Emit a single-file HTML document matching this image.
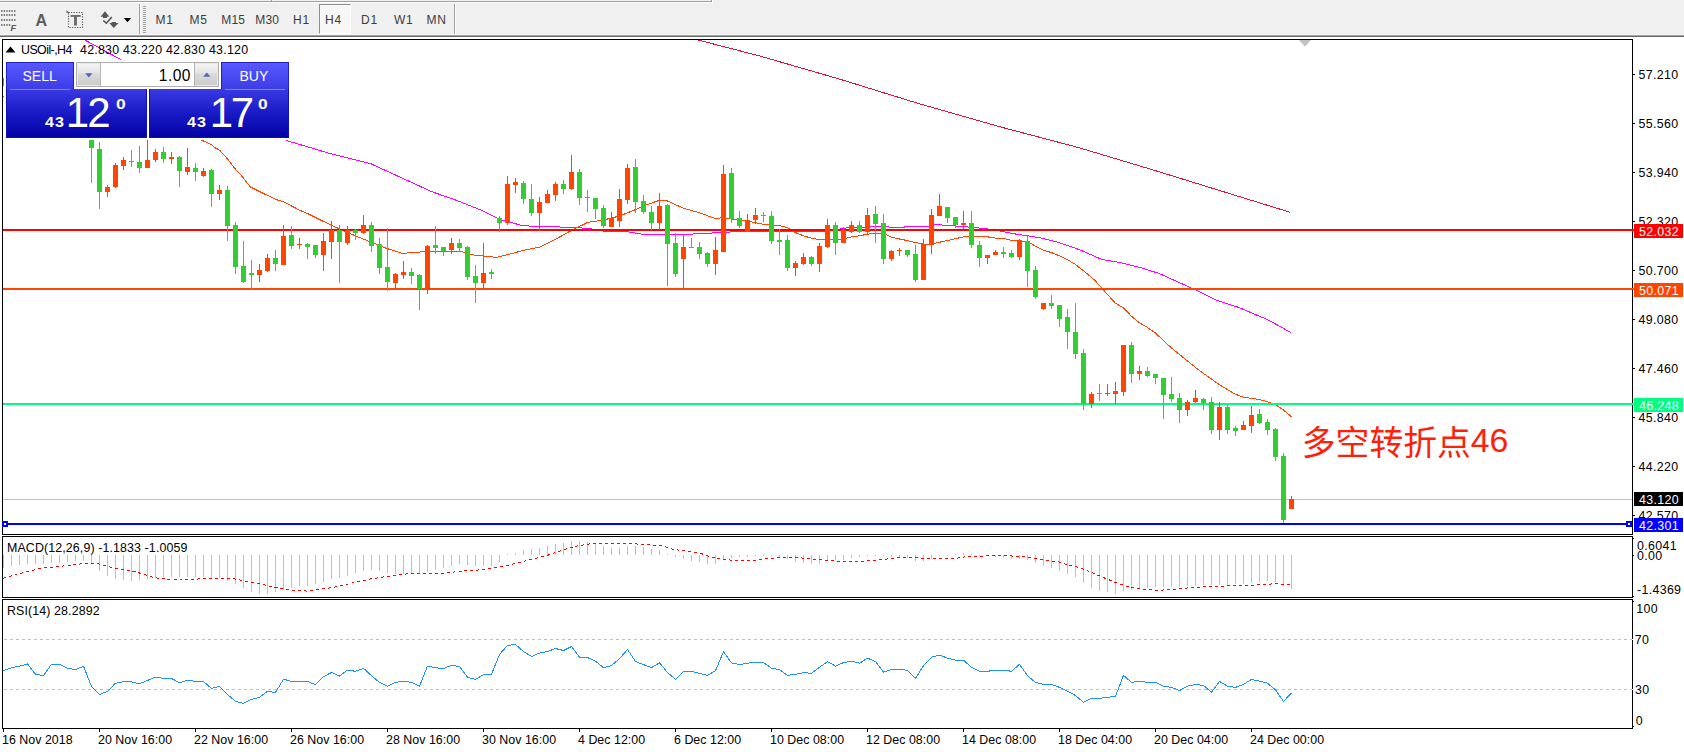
<!DOCTYPE html>
<html><head><meta charset="utf-8"><title>USOil H4</title>
<style>
html,body{margin:0;padding:0}
body{width:1684px;height:752px;position:relative;overflow:hidden;background:#fff;font-family:"Liberation Sans","Noto Sans CJK SC",sans-serif;color:#000}
.abs{position:absolute}
.t{position:absolute;white-space:nowrap;font-size:12.4px;letter-spacing:0.12px;line-height:14px;height:14px}
.tb{position:absolute;white-space:nowrap;font-size:12px;line-height:14px;color:#3c3c3c;top:13px}
.lab{position:absolute;left:1634px;width:49px;height:14px;overflow:hidden;color:#fff;font-size:12.4px;letter-spacing:0.33px;line-height:16px;text-indent:5px;white-space:nowrap}
.ax{position:absolute;left:1638.5px;white-space:nowrap;font-size:12.4px;letter-spacing:0.33px;line-height:14px;height:14px}
.tm{position:absolute;top:733px;white-space:nowrap;font-size:12.4px;letter-spacing:0.03px;line-height:14px;height:14px}
.w{color:#fff;position:absolute;white-space:nowrap}
</style></head><body>

<div class="abs" style="left:0;top:0;width:1684px;height:35px;background:#f0f0f0"></div>
<div class="abs" style="left:0;top:34px;width:1684px;height:1px;background:#f7f7f7"></div><div class="abs" style="left:0;top:35px;width:1684px;height:1px;background:#a4a4a4"></div>
<div class="abs" style="left:0;top:36px;width:1684px;height:1px;background:#696969"></div>
<div class="abs" style="left:0;top:1px;width:712px;height:1px;background:#a0a0a0"></div>
<div class="abs" style="left:0;top:2px;width:713px;height:1px;background:#fff"></div>
<div class="abs" style="left:271px;top:0;width:1px;height:1px;background:#a0a0a0"></div><div class="abs" style="left:272px;top:0;width:1px;height:1px;background:#fff"></div>
<div class="abs" style="left:711px;top:0;width:1px;height:2px;background:#a0a0a0"></div><div class="abs" style="left:712px;top:0;width:1px;height:3px;background:#fff"></div>
<div class="abs" style="left:139px;top:4px;width:1px;height:30px;background:#a0a0a0"></div><div class="abs" style="left:140px;top:4px;width:1px;height:30px;background:#fff"></div>
<div class="abs" style="left:454px;top:4px;width:1px;height:30px;background:#a0a0a0"></div><div class="abs" style="left:455px;top:4px;width:1px;height:30px;background:#fff"></div>
<div class="abs" style="left:143px;top:6px;width:3px;height:27px;background:repeating-linear-gradient(to bottom,#a0a0a0 0,#a0a0a0 1px,#f0f0f0 1px,#f0f0f0 2px)"></div>
<div class="abs" style="left:319px;top:4px;width:32px;height:30px;background:#f7f7f7;border-left:1px solid #8e8e8e;border-top:1px solid #8e8e8e;border-right:1px solid #fff;border-bottom:1px solid #fff;box-sizing:border-box"></div>
<div class="tb" style="left:155.4px;letter-spacing:0.9px">M1</div>
<div class="tb" style="left:189.4px;letter-spacing:0.9px">M5</div>
<div class="tb" style="left:221.3px;letter-spacing:0.2px">M15</div>
<div class="tb" style="left:255.3px;letter-spacing:0.2px">M30</div>
<div class="tb" style="left:292.9px;letter-spacing:0.9px">H1</div>
<div class="tb" style="left:324.9px;letter-spacing:0.9px">H4</div>
<div class="tb" style="left:360.9px;letter-spacing:0.9px">D1</div>
<div class="tb" style="left:393.9px;letter-spacing:0.9px">W1</div>
<div class="tb" style="left:426.4px;letter-spacing:0.9px">MN</div>
<svg class="abs" style="left:0;top:0" width="140" height="36" viewBox="0 0 140 36">
<g stroke="#7c7c7c" stroke-width="2" stroke-dasharray="1.45,1.15">
<line x1="1" y1="11" x2="15.5" y2="11"/><line x1="1" y1="15" x2="15.5" y2="15"/><line x1="1" y1="20" x2="15.5" y2="20"/><line x1="1" y1="25" x2="10.4" y2="25"/></g>
<text x="10.6" y="30.6" font-family="Liberation Sans,sans-serif" font-size="9.2" font-weight="bold" font-style="italic" fill="#585858">F</text>
<text x="35.6" y="25.6" font-family="Liberation Sans,sans-serif" font-size="16" font-weight="bold" fill="#5c5c5c">A</text>
<rect x="68.5" y="12.5" width="14" height="15" fill="none" stroke="#5a5a5a" stroke-width="1.2" stroke-dasharray="1.2,1.35"/>
<path d="M66.5 13 L66.5 10.2 L70 13 Z" fill="#666"/>
<rect x="70.5" y="15" width="10.2" height="1.9" fill="#707070"/><rect x="74" y="15" width="3" height="10.5" fill="#707070"/>
<path d="M105 11.2 L109.4 16.7 L106.9 16.7 L106.9 18 L103 18 L103 16.7 L100.6 16.7 Z" fill="#575757"/>
<path d="M113.8 28 L109.3 23 L111.6 23 L111.6 21.9 L115.9 21.9 L115.9 23 L118.5 23 Z" fill="#575757"/>
<path d="M103.3 20.6 L106.4 23.2 L111.8 16.9" fill="none" stroke="#575757" stroke-width="1.6"/>
<path d="M123.8 18 L131.2 18 L127.5 22.3 Z" fill="#000"/>
</svg>
<svg class="abs" style="left:0;top:0" width="1684" height="752" viewBox="0 0 1684 752" shape-rendering="crispEdges">
<g fill="#000">
<rect x="2" y="39" width="1631" height="1"/>
<rect x="2" y="39" width="1" height="690"/>
<rect x="1632" y="39" width="1" height="690"/>
<rect x="2" y="534" width="1631" height="1"/><rect x="2" y="536" width="1631" height="1"/>
<rect x="2" y="597" width="1631" height="1"/><rect x="2" y="599" width="1631" height="1"/>
<rect x="2" y="728" width="1631" height="1"/>
</g>
<g fill="#fff"><rect x="2" y="535" width="1631" height="1"/><rect x="2" y="598" width="1631" height="1"/></g>
<g fill="#000">
<rect x="1633" y="74" width="2" height="1"/>
<rect x="1633" y="123" width="2" height="1"/>
<rect x="1633" y="172" width="2" height="1"/>
<rect x="1633" y="221" width="2" height="1"/>
<rect x="1633" y="270" width="2" height="1"/>
<rect x="1633" y="319" width="2" height="1"/>
<rect x="1633" y="368" width="2" height="1"/>
<rect x="1633" y="417" width="2" height="1"/>
<rect x="1633" y="466" width="2" height="1"/>
<rect x="1633" y="515" width="2" height="1"/>
<rect x="1633" y="538" width="1" height="1"/>
<rect x="1633" y="555" width="1" height="1"/>
<rect x="1633" y="596" width="1" height="1"/>
<rect x="1633" y="601" width="1" height="1"/>
<rect x="1633" y="726" width="1" height="1"/>
<rect x="3" y="729" width="1" height="3"/>
<rect x="99" y="729" width="1" height="3"/>
<rect x="195" y="729" width="1" height="3"/>
<rect x="291" y="729" width="1" height="3"/>
<rect x="387" y="729" width="1" height="3"/>
<rect x="483" y="729" width="1" height="3"/>
<rect x="579" y="729" width="1" height="3"/>
<rect x="675" y="729" width="1" height="3"/>
<rect x="771" y="729" width="1" height="3"/>
<rect x="867" y="729" width="1" height="3"/>
<rect x="963" y="729" width="1" height="3"/>
<rect x="1059" y="729" width="1" height="3"/>
<rect x="1155" y="729" width="1" height="3"/>
<rect x="1251" y="729" width="1" height="3"/>
</g>
<polygon points="1299,40 1311,40 1305,46.5" fill="#c0c0c0" shape-rendering="auto"/>
<rect x="3" y="499" width="1629" height="1" fill="#c0c0c0"/>
<line x1="4" y1="639.5" x2="1632" y2="639.5" stroke="#c0c0c0" stroke-dasharray="3,3"/><rect x="1632" y="639" width="1" height="1" fill="#fff"/>
<line x1="4" y1="689.5" x2="1632" y2="689.5" stroke="#c0c0c0" stroke-dasharray="3,3"/><rect x="1632" y="689" width="1" height="1" fill="#fff"/>
<polyline fill="none" stroke="#ff00ff" stroke-width="1" points="84.7,40.0 121.0,59.6" />
<polyline fill="none" stroke="#ff00ff" stroke-width="1" points="286.3,140.6 305.3,146.1 330.5,153.7 371.0,163.8 401.3,177.7 431.6,191.6 456.9,200.5 482.2,210.6 499.9,219.4 522.6,225.7 540.0,226.5 563.7,227.1 587.7,228.3 603.6,231.1 628.0,231.9 641.2,234.1 667.5,235.1 683.9,234.5 715.5,232.8 731.5,231.9 749.0,231.0 775.0,231.3 793.0,231.8 823.0,231.8 835.0,230.0 847.0,227.8 868.0,227.0 874.0,226.3 887.0,226.3 890.0,227.4 903.0,227.4 906.0,226.6 927.0,226.6 931.5,225.5 935.0,224.3 947.5,225.5 963.5,226.6 971.5,227.4 983.0,228.3 1000.5,231.0 1011.5,233.4 1027.5,235.8 1043.5,238.5 1059.5,242.7 1079.0,249.5 1102.0,259.5 1118.9,262.3 1142.0,268.0 1158.9,273.4 1198.8,291.4 1217.0,300.5 1238.7,307.4 1269.0,320.3 1291.0,332.6" />
<polyline fill="none" stroke="#ff4500" stroke-width="1" points="201.0,140.0 207.0,142.5 211.6,144.6 215.0,147.7 219.6,150.2 227.5,158.9 232.5,165.4 235.5,169.3 243.5,178.0 250.2,186.9 262.8,193.2 277.4,200.0 283.0,201.5 300.0,210.4 307.7,213.6 331.7,225.5 355.6,235.9 371.5,242.3 384.8,247.8 402.3,253.4 423.0,251.8 435.8,251.0 459.7,251.0 474.0,255.0 496.4,257.4 512.3,253.4 523.9,250.3 539.8,247.1 555.8,239.1 571.7,230.3 587.7,222.4 603.6,220.0 619.6,216.0 635.5,209.6 643.5,205.8 659.5,200.3 667.5,201.0 683.9,208.4 699.5,212.7 715.5,218.7 723.5,217.4 731.5,219.2 747.5,221.1 763.5,224.3 779.5,225.6 787.5,227.8 795.5,232.6 803.5,235.8 811.5,238.2 819.5,239.5 835.8,240.1 843.5,239.0 851.5,236.9 859.5,235.8 867.5,234.2 875.5,233.0 883.5,233.4 891.5,237.1 899.5,239.0 907.5,240.6 915.5,242.5 923.5,244.1 931.5,244.1 939.5,242.2 947.5,240.6 955.5,238.7 963.5,236.9 971.5,236.1 983.0,236.1 995.7,238.2 1003.5,238.5 1011.5,240.3 1019.5,240.9 1027.5,241.4 1035.5,246.2 1043.5,250.2 1051.5,252.6 1059.5,255.8 1067.5,259.7 1075.5,264.5 1085.0,272.0 1094.5,280.0 1102.0,288.4 1115.5,303.3 1123.5,307.9 1131.5,316.3 1139.5,322.8 1147.5,327.5 1155.5,333.1 1163.5,340.5 1171.5,348.0 1179.5,354.5 1190.0,363.0 1200.0,371.0 1210.0,378.0 1219.9,385.0 1227.5,389.7 1235.5,394.3 1243.5,397.1 1251.5,398.4 1259.5,399.5 1267.5,401.8 1275.5,404.6 1283.5,410.1 1291.5,416.7" />
<polyline fill="none" stroke="#dc143c" stroke-width="1" points="698.0,40.0 759.8,56.0 839.6,79.1 919.4,103.8 999.2,126.6 1079.0,147.7 1158.9,171.7 1238.7,196.4 1290.5,212.4" />
<rect x="3" y="229" width="1631" height="2" fill="#ff0000"/>
<rect x="3" y="288" width="1631" height="2" fill="#ff4500"/>
<rect x="3" y="403" width="1631" height="2" fill="#00ff7f"/>
<rect x="3" y="523" width="1629" height="2" fill="#0000ff"/>
<rect x="1626" y="521" width="6" height="6" fill="#0000ff"/><rect x="1628" y="523" width="2" height="2" fill="#fff"/>
<rect x="2" y="521" width="6" height="6" fill="#0000ff"/><rect x="4" y="523" width="2" height="2" fill="#fff"/>
<rect x="3" y="78" width="1" height="8" fill="#32cd32"/>
<rect x="3" y="96" width="1" height="1" fill="#ff4500"/>
<rect x="91" y="140" width="1" height="43" fill="#32cd32"/>
<rect x="89" y="140" width="5" height="8" fill="#32cd32"/>
<rect x="99" y="142" width="1" height="67" fill="#32cd32"/>
<rect x="97" y="149" width="5" height="43" fill="#32cd32"/>
<rect x="107" y="185" width="1" height="12" fill="#ff4500"/>
<rect x="105" y="187" width="5" height="5" fill="#ff4500"/>
<rect x="115" y="163" width="1" height="25" fill="#ff4500"/>
<rect x="113" y="165" width="5" height="22" fill="#ff4500"/>
<rect x="123" y="157" width="1" height="13" fill="#ff4500"/>
<rect x="121" y="160" width="5" height="6" fill="#ff4500"/>
<rect x="131" y="150" width="1" height="17" fill="#32cd32"/>
<rect x="129" y="161" width="5" height="1" fill="#32cd32"/>
<rect x="139" y="146" width="1" height="27" fill="#32cd32"/>
<rect x="137" y="162" width="5" height="6" fill="#32cd32"/>
<rect x="147" y="140" width="1" height="28" fill="#ff4500"/>
<rect x="145" y="160" width="5" height="8" fill="#ff4500"/>
<rect x="155" y="149" width="1" height="13" fill="#ff4500"/>
<rect x="153" y="152" width="5" height="8" fill="#ff4500"/>
<rect x="163" y="147" width="1" height="16" fill="#32cd32"/>
<rect x="161" y="152" width="5" height="7" fill="#32cd32"/>
<rect x="171" y="152" width="1" height="12" fill="#ff4500"/>
<rect x="169" y="157" width="5" height="2" fill="#ff4500"/>
<rect x="179" y="156" width="1" height="31" fill="#32cd32"/>
<rect x="177" y="157" width="5" height="14" fill="#32cd32"/>
<rect x="187" y="148" width="1" height="27" fill="#ff4500"/>
<rect x="185" y="167" width="5" height="5" fill="#ff4500"/>
<rect x="195" y="163" width="1" height="18" fill="#32cd32"/>
<rect x="193" y="168" width="5" height="4" fill="#32cd32"/>
<rect x="203" y="168" width="1" height="9" fill="#ff4500"/>
<rect x="201" y="171" width="5" height="5" fill="#ff4500"/>
<rect x="211" y="169" width="1" height="38" fill="#32cd32"/>
<rect x="209" y="170" width="5" height="24" fill="#32cd32"/>
<rect x="219" y="185" width="1" height="15" fill="#ff4500"/>
<rect x="217" y="190" width="5" height="4" fill="#ff4500"/>
<rect x="227" y="186" width="1" height="55" fill="#32cd32"/>
<rect x="225" y="190" width="5" height="36" fill="#32cd32"/>
<rect x="235" y="222" width="1" height="52" fill="#32cd32"/>
<rect x="233" y="225" width="5" height="42" fill="#32cd32"/>
<rect x="243" y="241" width="1" height="42" fill="#32cd32"/>
<rect x="241" y="266" width="5" height="16" fill="#32cd32"/>
<rect x="251" y="260" width="1" height="30" fill="#32cd32"/>
<rect x="249" y="273" width="5" height="2" fill="#32cd32"/>
<rect x="259" y="264" width="1" height="18" fill="#ff4500"/>
<rect x="257" y="270" width="5" height="5" fill="#ff4500"/>
<rect x="267" y="254" width="1" height="18" fill="#ff4500"/>
<rect x="265" y="258" width="5" height="13" fill="#ff4500"/>
<rect x="275" y="250" width="1" height="21" fill="#32cd32"/>
<rect x="273" y="258" width="5" height="6" fill="#32cd32"/>
<rect x="283" y="225" width="1" height="40" fill="#ff4500"/>
<rect x="281" y="236" width="5" height="29" fill="#ff4500"/>
<rect x="291" y="226" width="1" height="23" fill="#32cd32"/>
<rect x="289" y="235" width="5" height="11" fill="#32cd32"/>
<rect x="299" y="238" width="1" height="11" fill="#ff4500"/>
<rect x="297" y="244" width="5" height="1" fill="#ff4500"/>
<rect x="307" y="243" width="1" height="16" fill="#32cd32"/>
<rect x="305" y="244" width="5" height="3" fill="#32cd32"/>
<rect x="315" y="245" width="1" height="13" fill="#32cd32"/>
<rect x="313" y="245" width="5" height="10" fill="#32cd32"/>
<rect x="323" y="233" width="1" height="38" fill="#ff4500"/>
<rect x="321" y="241" width="5" height="14" fill="#ff4500"/>
<rect x="331" y="221" width="1" height="38" fill="#ff4500"/>
<rect x="329" y="230" width="5" height="12" fill="#ff4500"/>
<rect x="339" y="225" width="1" height="58" fill="#32cd32"/>
<rect x="337" y="230" width="5" height="12" fill="#32cd32"/>
<rect x="347" y="226" width="1" height="19" fill="#ff4500"/>
<rect x="345" y="230" width="5" height="13" fill="#ff4500"/>
<rect x="355" y="229" width="1" height="11" fill="#32cd32"/>
<rect x="353" y="230" width="5" height="3" fill="#32cd32"/>
<rect x="363" y="215" width="1" height="19" fill="#ff4500"/>
<rect x="361" y="225" width="5" height="8" fill="#ff4500"/>
<rect x="371" y="222" width="1" height="30" fill="#32cd32"/>
<rect x="369" y="225" width="5" height="21" fill="#32cd32"/>
<rect x="379" y="238" width="1" height="36" fill="#32cd32"/>
<rect x="377" y="244" width="5" height="24" fill="#32cd32"/>
<rect x="387" y="228" width="1" height="63" fill="#32cd32"/>
<rect x="385" y="267" width="5" height="15" fill="#32cd32"/>
<rect x="395" y="273" width="1" height="15" fill="#ff4500"/>
<rect x="393" y="274" width="5" height="9" fill="#ff4500"/>
<rect x="403" y="261" width="1" height="18" fill="#ff4500"/>
<rect x="401" y="272" width="5" height="3" fill="#ff4500"/>
<rect x="411" y="268" width="1" height="16" fill="#32cd32"/>
<rect x="409" y="272" width="5" height="4" fill="#32cd32"/>
<rect x="419" y="274" width="1" height="36" fill="#32cd32"/>
<rect x="417" y="275" width="5" height="14" fill="#32cd32"/>
<rect x="427" y="245" width="1" height="49" fill="#ff4500"/>
<rect x="425" y="246" width="5" height="43" fill="#ff4500"/>
<rect x="435" y="226" width="1" height="28" fill="#32cd32"/>
<rect x="433" y="245" width="5" height="3" fill="#32cd32"/>
<rect x="443" y="247" width="1" height="9" fill="#32cd32"/>
<rect x="441" y="247" width="5" height="4" fill="#32cd32"/>
<rect x="451" y="238" width="1" height="16" fill="#ff4500"/>
<rect x="449" y="243" width="5" height="7" fill="#ff4500"/>
<rect x="459" y="239" width="1" height="13" fill="#32cd32"/>
<rect x="457" y="243" width="5" height="5" fill="#32cd32"/>
<rect x="467" y="246" width="1" height="34" fill="#32cd32"/>
<rect x="465" y="247" width="5" height="30" fill="#32cd32"/>
<rect x="475" y="265" width="1" height="38" fill="#32cd32"/>
<rect x="473" y="276" width="5" height="7" fill="#32cd32"/>
<rect x="483" y="243" width="1" height="45" fill="#ff4500"/>
<rect x="481" y="273" width="5" height="10" fill="#ff4500"/>
<rect x="491" y="269" width="1" height="10" fill="#32cd32"/>
<rect x="489" y="272" width="5" height="2" fill="#32cd32"/>
<rect x="499" y="216" width="1" height="16" fill="#32cd32"/>
<rect x="497" y="218" width="5" height="5" fill="#32cd32"/>
<rect x="507" y="176" width="1" height="49" fill="#ff4500"/>
<rect x="505" y="184" width="5" height="39" fill="#ff4500"/>
<rect x="515" y="178" width="1" height="15" fill="#ff4500"/>
<rect x="513" y="182" width="5" height="3" fill="#ff4500"/>
<rect x="523" y="181" width="1" height="23" fill="#32cd32"/>
<rect x="521" y="183" width="5" height="16" fill="#32cd32"/>
<rect x="531" y="184" width="1" height="32" fill="#32cd32"/>
<rect x="529" y="199" width="5" height="14" fill="#32cd32"/>
<rect x="539" y="197" width="1" height="34" fill="#ff4500"/>
<rect x="537" y="202" width="5" height="11" fill="#ff4500"/>
<rect x="547" y="190" width="1" height="13" fill="#ff4500"/>
<rect x="545" y="194" width="5" height="9" fill="#ff4500"/>
<rect x="555" y="182" width="1" height="19" fill="#ff4500"/>
<rect x="553" y="184" width="5" height="11" fill="#ff4500"/>
<rect x="563" y="180" width="1" height="14" fill="#32cd32"/>
<rect x="561" y="184" width="5" height="5" fill="#32cd32"/>
<rect x="571" y="155" width="1" height="35" fill="#ff4500"/>
<rect x="569" y="172" width="5" height="17" fill="#ff4500"/>
<rect x="579" y="169" width="1" height="36" fill="#32cd32"/>
<rect x="577" y="172" width="5" height="26" fill="#32cd32"/>
<rect x="587" y="190" width="1" height="22" fill="#32cd32"/>
<rect x="585" y="197" width="5" height="1" fill="#32cd32"/>
<rect x="595" y="198" width="1" height="21" fill="#32cd32"/>
<rect x="593" y="198" width="5" height="11" fill="#32cd32"/>
<rect x="603" y="205" width="1" height="23" fill="#32cd32"/>
<rect x="601" y="208" width="5" height="18" fill="#32cd32"/>
<rect x="611" y="212" width="1" height="15" fill="#ff4500"/>
<rect x="609" y="218" width="5" height="9" fill="#ff4500"/>
<rect x="619" y="189" width="1" height="38" fill="#ff4500"/>
<rect x="617" y="199" width="5" height="22" fill="#ff4500"/>
<rect x="627" y="164" width="1" height="40" fill="#ff4500"/>
<rect x="625" y="168" width="5" height="32" fill="#ff4500"/>
<rect x="635" y="159" width="1" height="54" fill="#32cd32"/>
<rect x="633" y="167" width="5" height="35" fill="#32cd32"/>
<rect x="643" y="195" width="1" height="19" fill="#32cd32"/>
<rect x="641" y="201" width="5" height="11" fill="#32cd32"/>
<rect x="651" y="206" width="1" height="24" fill="#32cd32"/>
<rect x="649" y="212" width="5" height="11" fill="#32cd32"/>
<rect x="659" y="193" width="1" height="37" fill="#ff4500"/>
<rect x="657" y="206" width="5" height="17" fill="#ff4500"/>
<rect x="667" y="204" width="1" height="82" fill="#32cd32"/>
<rect x="665" y="205" width="5" height="39" fill="#32cd32"/>
<rect x="675" y="233" width="1" height="44" fill="#32cd32"/>
<rect x="673" y="243" width="5" height="31" fill="#32cd32"/>
<rect x="683" y="234" width="1" height="55" fill="#ff4500"/>
<rect x="681" y="247" width="5" height="12" fill="#ff4500"/>
<rect x="691" y="238" width="1" height="10" fill="#32cd32"/>
<rect x="689" y="247" width="5" height="1" fill="#32cd32"/>
<rect x="699" y="242" width="1" height="17" fill="#32cd32"/>
<rect x="697" y="247" width="5" height="7" fill="#32cd32"/>
<rect x="707" y="252" width="1" height="15" fill="#32cd32"/>
<rect x="705" y="253" width="5" height="11" fill="#32cd32"/>
<rect x="715" y="237" width="1" height="38" fill="#ff4500"/>
<rect x="713" y="250" width="5" height="14" fill="#ff4500"/>
<rect x="723" y="165" width="1" height="87" fill="#ff4500"/>
<rect x="721" y="174" width="5" height="78" fill="#ff4500"/>
<rect x="731" y="168" width="1" height="55" fill="#32cd32"/>
<rect x="729" y="173" width="5" height="46" fill="#32cd32"/>
<rect x="739" y="211" width="1" height="17" fill="#32cd32"/>
<rect x="737" y="218" width="5" height="8" fill="#32cd32"/>
<rect x="747" y="214" width="1" height="18" fill="#ff4500"/>
<rect x="745" y="220" width="5" height="12" fill="#ff4500"/>
<rect x="755" y="208" width="1" height="16" fill="#ff4500"/>
<rect x="753" y="215" width="5" height="5" fill="#ff4500"/>
<rect x="763" y="212" width="1" height="10" fill="#32cd32"/>
<rect x="761" y="215" width="5" height="1" fill="#32cd32"/>
<rect x="771" y="211" width="1" height="33" fill="#32cd32"/>
<rect x="769" y="216" width="5" height="25" fill="#32cd32"/>
<rect x="779" y="229" width="1" height="26" fill="#32cd32"/>
<rect x="777" y="240" width="5" height="2" fill="#32cd32"/>
<rect x="787" y="235" width="1" height="36" fill="#32cd32"/>
<rect x="785" y="240" width="5" height="28" fill="#32cd32"/>
<rect x="795" y="261" width="1" height="15" fill="#ff4500"/>
<rect x="793" y="263" width="5" height="5" fill="#ff4500"/>
<rect x="803" y="253" width="1" height="12" fill="#ff4500"/>
<rect x="801" y="257" width="5" height="7" fill="#ff4500"/>
<rect x="811" y="256" width="1" height="10" fill="#32cd32"/>
<rect x="809" y="257" width="5" height="7" fill="#32cd32"/>
<rect x="819" y="243" width="1" height="29" fill="#ff4500"/>
<rect x="817" y="246" width="5" height="18" fill="#ff4500"/>
<rect x="827" y="219" width="1" height="29" fill="#ff4500"/>
<rect x="825" y="225" width="5" height="22" fill="#ff4500"/>
<rect x="835" y="222" width="1" height="33" fill="#32cd32"/>
<rect x="833" y="225" width="5" height="18" fill="#32cd32"/>
<rect x="843" y="227" width="1" height="16" fill="#ff4500"/>
<rect x="841" y="230" width="5" height="13" fill="#ff4500"/>
<rect x="851" y="221" width="1" height="12" fill="#ff4500"/>
<rect x="849" y="225" width="5" height="7" fill="#ff4500"/>
<rect x="859" y="221" width="1" height="12" fill="#32cd32"/>
<rect x="857" y="225" width="5" height="7" fill="#32cd32"/>
<rect x="867" y="208" width="1" height="27" fill="#ff4500"/>
<rect x="865" y="215" width="5" height="17" fill="#ff4500"/>
<rect x="875" y="206" width="1" height="37" fill="#32cd32"/>
<rect x="873" y="214" width="5" height="10" fill="#32cd32"/>
<rect x="883" y="214" width="1" height="50" fill="#32cd32"/>
<rect x="881" y="223" width="5" height="36" fill="#32cd32"/>
<rect x="891" y="250" width="1" height="11" fill="#ff4500"/>
<rect x="889" y="251" width="5" height="8" fill="#ff4500"/>
<rect x="899" y="248" width="1" height="8" fill="#ff4500"/>
<rect x="897" y="250" width="5" height="1" fill="#ff4500"/>
<rect x="907" y="250" width="1" height="7" fill="#32cd32"/>
<rect x="905" y="250" width="5" height="5" fill="#32cd32"/>
<rect x="915" y="245" width="1" height="37" fill="#32cd32"/>
<rect x="913" y="254" width="5" height="26" fill="#32cd32"/>
<rect x="923" y="239" width="1" height="41" fill="#ff4500"/>
<rect x="921" y="244" width="5" height="36" fill="#ff4500"/>
<rect x="931" y="209" width="1" height="45" fill="#ff4500"/>
<rect x="929" y="215" width="5" height="30" fill="#ff4500"/>
<rect x="939" y="194" width="1" height="22" fill="#ff4500"/>
<rect x="937" y="206" width="5" height="10" fill="#ff4500"/>
<rect x="947" y="207" width="1" height="16" fill="#32cd32"/>
<rect x="945" y="207" width="5" height="11" fill="#32cd32"/>
<rect x="955" y="217" width="1" height="11" fill="#32cd32"/>
<rect x="953" y="217" width="5" height="8" fill="#32cd32"/>
<rect x="963" y="211" width="1" height="18" fill="#ff4500"/>
<rect x="961" y="223" width="5" height="2" fill="#ff4500"/>
<rect x="971" y="211" width="1" height="37" fill="#32cd32"/>
<rect x="969" y="223" width="5" height="22" fill="#32cd32"/>
<rect x="979" y="241" width="1" height="26" fill="#32cd32"/>
<rect x="977" y="245" width="5" height="13" fill="#32cd32"/>
<rect x="987" y="255" width="1" height="9" fill="#ff4500"/>
<rect x="985" y="255" width="5" height="3" fill="#ff4500"/>
<rect x="995" y="250" width="1" height="5" fill="#ff4500"/>
<rect x="993" y="252" width="5" height="3" fill="#ff4500"/>
<rect x="1003" y="247" width="1" height="11" fill="#32cd32"/>
<rect x="1001" y="252" width="5" height="2" fill="#32cd32"/>
<rect x="1011" y="250" width="1" height="8" fill="#32cd32"/>
<rect x="1009" y="253" width="5" height="4" fill="#32cd32"/>
<rect x="1019" y="239" width="1" height="21" fill="#ff4500"/>
<rect x="1017" y="240" width="5" height="17" fill="#ff4500"/>
<rect x="1027" y="236" width="1" height="51" fill="#32cd32"/>
<rect x="1025" y="241" width="5" height="30" fill="#32cd32"/>
<rect x="1035" y="266" width="1" height="33" fill="#32cd32"/>
<rect x="1033" y="270" width="5" height="27" fill="#32cd32"/>
<rect x="1043" y="303" width="1" height="7" fill="#ff4500"/>
<rect x="1041" y="303" width="5" height="6" fill="#ff4500"/>
<rect x="1051" y="295" width="1" height="14" fill="#32cd32"/>
<rect x="1049" y="303" width="5" height="3" fill="#32cd32"/>
<rect x="1059" y="305" width="1" height="22" fill="#32cd32"/>
<rect x="1057" y="305" width="5" height="14" fill="#32cd32"/>
<rect x="1067" y="309" width="1" height="40" fill="#32cd32"/>
<rect x="1065" y="317" width="5" height="15" fill="#32cd32"/>
<rect x="1075" y="303" width="1" height="56" fill="#32cd32"/>
<rect x="1073" y="332" width="5" height="22" fill="#32cd32"/>
<rect x="1083" y="349" width="1" height="61" fill="#32cd32"/>
<rect x="1081" y="353" width="5" height="51" fill="#32cd32"/>
<rect x="1091" y="392" width="1" height="16" fill="#ff4500"/>
<rect x="1089" y="394" width="5" height="10" fill="#ff4500"/>
<rect x="1099" y="384" width="1" height="17" fill="#32cd32"/>
<rect x="1097" y="393" width="5" height="1" fill="#32cd32"/>
<rect x="1107" y="384" width="1" height="12" fill="#ff4500"/>
<rect x="1105" y="393" width="5" height="1" fill="#ff4500"/>
<rect x="1115" y="382" width="1" height="22" fill="#ff4500"/>
<rect x="1113" y="391" width="5" height="3" fill="#ff4500"/>
<rect x="1123" y="345" width="1" height="51" fill="#ff4500"/>
<rect x="1121" y="345" width="5" height="47" fill="#ff4500"/>
<rect x="1131" y="342" width="1" height="41" fill="#32cd32"/>
<rect x="1129" y="345" width="5" height="29" fill="#32cd32"/>
<rect x="1139" y="366" width="1" height="14" fill="#ff4500"/>
<rect x="1137" y="371" width="5" height="3" fill="#ff4500"/>
<rect x="1147" y="367" width="1" height="10" fill="#32cd32"/>
<rect x="1145" y="371" width="5" height="5" fill="#32cd32"/>
<rect x="1155" y="374" width="1" height="10" fill="#32cd32"/>
<rect x="1153" y="374" width="5" height="4" fill="#32cd32"/>
<rect x="1163" y="378" width="1" height="41" fill="#32cd32"/>
<rect x="1161" y="378" width="5" height="17" fill="#32cd32"/>
<rect x="1171" y="377" width="1" height="25" fill="#32cd32"/>
<rect x="1169" y="394" width="5" height="5" fill="#32cd32"/>
<rect x="1179" y="393" width="1" height="30" fill="#32cd32"/>
<rect x="1177" y="398" width="5" height="12" fill="#32cd32"/>
<rect x="1187" y="400" width="1" height="16" fill="#ff4500"/>
<rect x="1185" y="402" width="5" height="8" fill="#ff4500"/>
<rect x="1195" y="390" width="1" height="13" fill="#ff4500"/>
<rect x="1193" y="398" width="5" height="4" fill="#ff4500"/>
<rect x="1203" y="398" width="1" height="12" fill="#32cd32"/>
<rect x="1201" y="399" width="5" height="4" fill="#32cd32"/>
<rect x="1211" y="397" width="1" height="37" fill="#32cd32"/>
<rect x="1209" y="402" width="5" height="28" fill="#32cd32"/>
<rect x="1219" y="402" width="1" height="38" fill="#ff4500"/>
<rect x="1217" y="407" width="5" height="23" fill="#ff4500"/>
<rect x="1227" y="405" width="1" height="29" fill="#32cd32"/>
<rect x="1225" y="407" width="5" height="23" fill="#32cd32"/>
<rect x="1235" y="426" width="1" height="10" fill="#32cd32"/>
<rect x="1233" y="428" width="5" height="3" fill="#32cd32"/>
<rect x="1243" y="421" width="1" height="9" fill="#ff4500"/>
<rect x="1241" y="425" width="5" height="5" fill="#ff4500"/>
<rect x="1251" y="406" width="1" height="27" fill="#ff4500"/>
<rect x="1249" y="415" width="5" height="11" fill="#ff4500"/>
<rect x="1259" y="409" width="1" height="15" fill="#32cd32"/>
<rect x="1257" y="414" width="5" height="9" fill="#32cd32"/>
<rect x="1267" y="419" width="1" height="16" fill="#32cd32"/>
<rect x="1265" y="422" width="5" height="8" fill="#32cd32"/>
<rect x="1275" y="428" width="1" height="33" fill="#32cd32"/>
<rect x="1273" y="429" width="5" height="28" fill="#32cd32"/>
<rect x="1283" y="453" width="1" height="70" fill="#32cd32"/>
<rect x="1281" y="456" width="5" height="64" fill="#32cd32"/>
<rect x="1291" y="496" width="1" height="13" fill="#ff4500"/>
<rect x="1289" y="499" width="5" height="10" fill="#ff4500"/>
<rect x="3" y="555" width="1" height="13" fill="#c0c0c0"/>
<rect x="11" y="555" width="1" height="11" fill="#c0c0c0"/>
<rect x="19" y="555" width="1" height="10" fill="#c0c0c0"/>
<rect x="27" y="555" width="1" height="9" fill="#c0c0c0"/>
<rect x="35" y="555" width="1" height="9" fill="#c0c0c0"/>
<rect x="43" y="555" width="1" height="9" fill="#c0c0c0"/>
<rect x="51" y="555" width="1" height="8" fill="#c0c0c0"/>
<rect x="59" y="555" width="1" height="8" fill="#c0c0c0"/>
<rect x="67" y="555" width="1" height="7" fill="#c0c0c0"/>
<rect x="75" y="555" width="1" height="6" fill="#c0c0c0"/>
<rect x="83" y="555" width="1" height="6" fill="#c0c0c0"/>
<rect x="91" y="555" width="1" height="9" fill="#c0c0c0"/>
<rect x="99" y="555" width="1" height="16" fill="#c0c0c0"/>
<rect x="107" y="555" width="1" height="21" fill="#c0c0c0"/>
<rect x="115" y="555" width="1" height="24" fill="#c0c0c0"/>
<rect x="123" y="555" width="1" height="25" fill="#c0c0c0"/>
<rect x="131" y="555" width="1" height="26" fill="#c0c0c0"/>
<rect x="139" y="555" width="1" height="25" fill="#c0c0c0"/>
<rect x="147" y="555" width="1" height="24" fill="#c0c0c0"/>
<rect x="155" y="555" width="1" height="23" fill="#c0c0c0"/>
<rect x="163" y="555" width="1" height="22" fill="#c0c0c0"/>
<rect x="171" y="555" width="1" height="22" fill="#c0c0c0"/>
<rect x="179" y="555" width="1" height="22" fill="#c0c0c0"/>
<rect x="187" y="555" width="1" height="22" fill="#c0c0c0"/>
<rect x="195" y="555" width="1" height="22" fill="#c0c0c0"/>
<rect x="203" y="555" width="1" height="22" fill="#c0c0c0"/>
<rect x="211" y="555" width="1" height="23" fill="#c0c0c0"/>
<rect x="219" y="555" width="1" height="23" fill="#c0c0c0"/>
<rect x="227" y="555" width="1" height="26" fill="#c0c0c0"/>
<rect x="235" y="555" width="1" height="29" fill="#c0c0c0"/>
<rect x="243" y="555" width="1" height="33" fill="#c0c0c0"/>
<rect x="251" y="555" width="1" height="37" fill="#c0c0c0"/>
<rect x="259" y="555" width="1" height="39" fill="#c0c0c0"/>
<rect x="267" y="555" width="1" height="39" fill="#c0c0c0"/>
<rect x="275" y="555" width="1" height="37" fill="#c0c0c0"/>
<rect x="283" y="555" width="1" height="35" fill="#c0c0c0"/>
<rect x="291" y="555" width="1" height="33" fill="#c0c0c0"/>
<rect x="299" y="555" width="1" height="31" fill="#c0c0c0"/>
<rect x="307" y="555" width="1" height="31" fill="#c0c0c0"/>
<rect x="315" y="555" width="1" height="29" fill="#c0c0c0"/>
<rect x="323" y="555" width="1" height="27" fill="#c0c0c0"/>
<rect x="331" y="555" width="1" height="24" fill="#c0c0c0"/>
<rect x="339" y="555" width="1" height="23" fill="#c0c0c0"/>
<rect x="347" y="555" width="1" height="21" fill="#c0c0c0"/>
<rect x="355" y="555" width="1" height="18" fill="#c0c0c0"/>
<rect x="363" y="555" width="1" height="16" fill="#c0c0c0"/>
<rect x="371" y="555" width="1" height="15" fill="#c0c0c0"/>
<rect x="379" y="555" width="1" height="16" fill="#c0c0c0"/>
<rect x="387" y="555" width="1" height="18" fill="#c0c0c0"/>
<rect x="395" y="555" width="1" height="19" fill="#c0c0c0"/>
<rect x="403" y="555" width="1" height="19" fill="#c0c0c0"/>
<rect x="411" y="555" width="1" height="18" fill="#c0c0c0"/>
<rect x="419" y="555" width="1" height="19" fill="#c0c0c0"/>
<rect x="427" y="555" width="1" height="17" fill="#c0c0c0"/>
<rect x="435" y="555" width="1" height="15" fill="#c0c0c0"/>
<rect x="443" y="555" width="1" height="13" fill="#c0c0c0"/>
<rect x="451" y="555" width="1" height="11" fill="#c0c0c0"/>
<rect x="459" y="555" width="1" height="9" fill="#c0c0c0"/>
<rect x="467" y="555" width="1" height="10" fill="#c0c0c0"/>
<rect x="475" y="555" width="1" height="11" fill="#c0c0c0"/>
<rect x="483" y="555" width="1" height="11" fill="#c0c0c0"/>
<rect x="491" y="555" width="1" height="11" fill="#c0c0c0"/>
<rect x="499" y="555" width="1" height="7" fill="#c0c0c0"/>
<rect x="507" y="554" width="1" height="1" fill="#c0c0c0"/>
<rect x="515" y="553" width="1" height="2" fill="#c0c0c0"/>
<rect x="523" y="550" width="1" height="5" fill="#c0c0c0"/>
<rect x="531" y="549" width="1" height="6" fill="#c0c0c0"/>
<rect x="539" y="548" width="1" height="7" fill="#c0c0c0"/>
<rect x="547" y="546" width="1" height="9" fill="#c0c0c0"/>
<rect x="555" y="544" width="1" height="11" fill="#c0c0c0"/>
<rect x="563" y="543" width="1" height="12" fill="#c0c0c0"/>
<rect x="571" y="541" width="1" height="14" fill="#c0c0c0"/>
<rect x="579" y="541" width="1" height="14" fill="#c0c0c0"/>
<rect x="587" y="542" width="1" height="13" fill="#c0c0c0"/>
<rect x="595" y="544" width="1" height="11" fill="#c0c0c0"/>
<rect x="603" y="546" width="1" height="9" fill="#c0c0c0"/>
<rect x="611" y="548" width="1" height="7" fill="#c0c0c0"/>
<rect x="619" y="548" width="1" height="7" fill="#c0c0c0"/>
<rect x="627" y="546" width="1" height="9" fill="#c0c0c0"/>
<rect x="635" y="546" width="1" height="9" fill="#c0c0c0"/>
<rect x="643" y="547" width="1" height="8" fill="#c0c0c0"/>
<rect x="651" y="549" width="1" height="6" fill="#c0c0c0"/>
<rect x="659" y="550" width="1" height="5" fill="#c0c0c0"/>
<rect x="667" y="554" width="1" height="1" fill="#c0c0c0"/>
<rect x="675" y="555" width="1" height="2" fill="#c0c0c0"/>
<rect x="683" y="555" width="1" height="4" fill="#c0c0c0"/>
<rect x="691" y="555" width="1" height="6" fill="#c0c0c0"/>
<rect x="699" y="555" width="1" height="7" fill="#c0c0c0"/>
<rect x="707" y="555" width="1" height="9" fill="#c0c0c0"/>
<rect x="715" y="555" width="1" height="9" fill="#c0c0c0"/>
<rect x="723" y="555" width="1" height="4" fill="#c0c0c0"/>
<rect x="731" y="555" width="1" height="3" fill="#c0c0c0"/>
<rect x="739" y="555" width="1" height="2" fill="#c0c0c0"/>
<rect x="747" y="555" width="1" height="2" fill="#c0c0c0"/>
<rect x="755" y="555" width="1" height="1" fill="#c0c0c0"/>
<rect x="763" y="555" width="1" height="1" fill="#c0c0c0"/>
<rect x="771" y="555" width="1" height="1" fill="#c0c0c0"/>
<rect x="779" y="555" width="1" height="2" fill="#c0c0c0"/>
<rect x="787" y="555" width="1" height="4" fill="#c0c0c0"/>
<rect x="795" y="555" width="1" height="7" fill="#c0c0c0"/>
<rect x="803" y="555" width="1" height="8" fill="#c0c0c0"/>
<rect x="811" y="555" width="1" height="9" fill="#c0c0c0"/>
<rect x="819" y="555" width="1" height="9" fill="#c0c0c0"/>
<rect x="827" y="555" width="1" height="6" fill="#c0c0c0"/>
<rect x="835" y="555" width="1" height="5" fill="#c0c0c0"/>
<rect x="843" y="555" width="1" height="5" fill="#c0c0c0"/>
<rect x="851" y="555" width="1" height="3" fill="#c0c0c0"/>
<rect x="859" y="555" width="1" height="2" fill="#c0c0c0"/>
<rect x="867" y="555" width="1" height="1" fill="#c0c0c0"/>
<rect x="875" y="555" width="1" height="1" fill="#c0c0c0"/>
<rect x="883" y="555" width="1" height="1" fill="#c0c0c0"/>
<rect x="891" y="555" width="1" height="2" fill="#c0c0c0"/>
<rect x="899" y="555" width="1" height="3" fill="#c0c0c0"/>
<rect x="907" y="555" width="1" height="3" fill="#c0c0c0"/>
<rect x="915" y="555" width="1" height="6" fill="#c0c0c0"/>
<rect x="923" y="555" width="1" height="6" fill="#c0c0c0"/>
<rect x="931" y="555" width="1" height="4" fill="#c0c0c0"/>
<rect x="939" y="555" width="1" height="1" fill="#c0c0c0"/>
<rect x="947" y="555" width="1" height="1" fill="#c0c0c0"/>
<rect x="955" y="554" width="1" height="1" fill="#c0c0c0"/>
<rect x="963" y="553" width="1" height="2" fill="#c0c0c0"/>
<rect x="971" y="554" width="1" height="1" fill="#c0c0c0"/>
<rect x="979" y="555" width="1" height="1" fill="#c0c0c0"/>
<rect x="987" y="555" width="1" height="1" fill="#c0c0c0"/>
<rect x="995" y="555" width="1" height="2" fill="#c0c0c0"/>
<rect x="1003" y="555" width="1" height="3" fill="#c0c0c0"/>
<rect x="1011" y="555" width="1" height="4" fill="#c0c0c0"/>
<rect x="1019" y="555" width="1" height="4" fill="#c0c0c0"/>
<rect x="1027" y="555" width="1" height="5" fill="#c0c0c0"/>
<rect x="1035" y="555" width="1" height="8" fill="#c0c0c0"/>
<rect x="1043" y="555" width="1" height="11" fill="#c0c0c0"/>
<rect x="1051" y="555" width="1" height="13" fill="#c0c0c0"/>
<rect x="1059" y="555" width="1" height="16" fill="#c0c0c0"/>
<rect x="1067" y="555" width="1" height="19" fill="#c0c0c0"/>
<rect x="1075" y="555" width="1" height="22" fill="#c0c0c0"/>
<rect x="1083" y="555" width="1" height="28" fill="#c0c0c0"/>
<rect x="1091" y="555" width="1" height="33" fill="#c0c0c0"/>
<rect x="1099" y="555" width="1" height="36" fill="#c0c0c0"/>
<rect x="1107" y="555" width="1" height="37" fill="#c0c0c0"/>
<rect x="1115" y="555" width="1" height="39" fill="#c0c0c0"/>
<rect x="1123" y="555" width="1" height="36" fill="#c0c0c0"/>
<rect x="1131" y="555" width="1" height="35" fill="#c0c0c0"/>
<rect x="1139" y="555" width="1" height="33" fill="#c0c0c0"/>
<rect x="1147" y="555" width="1" height="33" fill="#c0c0c0"/>
<rect x="1155" y="555" width="1" height="32" fill="#c0c0c0"/>
<rect x="1163" y="555" width="1" height="32" fill="#c0c0c0"/>
<rect x="1171" y="555" width="1" height="32" fill="#c0c0c0"/>
<rect x="1179" y="555" width="1" height="32" fill="#c0c0c0"/>
<rect x="1187" y="555" width="1" height="31" fill="#c0c0c0"/>
<rect x="1195" y="555" width="1" height="31" fill="#c0c0c0"/>
<rect x="1203" y="555" width="1" height="30" fill="#c0c0c0"/>
<rect x="1211" y="555" width="1" height="30" fill="#c0c0c0"/>
<rect x="1219" y="555" width="1" height="30" fill="#c0c0c0"/>
<rect x="1227" y="555" width="1" height="30" fill="#c0c0c0"/>
<rect x="1235" y="555" width="1" height="29" fill="#c0c0c0"/>
<rect x="1243" y="555" width="1" height="29" fill="#c0c0c0"/>
<rect x="1251" y="555" width="1" height="28" fill="#c0c0c0"/>
<rect x="1259" y="555" width="1" height="27" fill="#c0c0c0"/>
<rect x="1267" y="555" width="1" height="26" fill="#c0c0c0"/>
<rect x="1275" y="555" width="1" height="27" fill="#c0c0c0"/>
<rect x="1283" y="555" width="1" height="31" fill="#c0c0c0"/>
<rect x="1291" y="555" width="1" height="34" fill="#c0c0c0"/>
<polyline fill="none" stroke="#ff0000" stroke-width="1" points="3.0,578.4 20.2,573.4 40.4,568.3 60.6,566.3 80.8,563.9 96.9,563.5 107.0,566.3 121.0,569.3 137.3,572.3 153.4,577.4 161.5,578.8 181.7,579.8 201.9,578.8 232.2,578.4 242.3,580.4 262.5,584.5 282.7,588.9 292.8,590.5 308.9,591.1 323.0,588.9 333.0,587.5 350.2,583.4 370.4,579.0 386.5,576.4 410.8,573.4 443.0,573.4 459.2,571.3 479.4,569.9 503.6,566.3 519.8,562.2 531.9,559.2 548.0,555.2 562.2,550.1 578.3,545.7 592.5,543.5 628.8,543.5 653.0,545.1 663.0,546.1 672.1,549.1 700.4,553.2 708.5,556.2 720.6,559.2 732.7,560.2 754.9,560.2 767.0,558.6 789.2,557.2 805.4,558.2 813.4,559.6 829.6,560.2 837.7,561.6 859.9,561.6 870.0,560.2 882.1,559.8 892.2,558.2 908.3,557.2 920.4,558.2 956.8,558.2 964.9,556.8 981.0,556.6 989.1,555.4 1000.0,555.6 1018.3,556.2 1030.4,557.6 1042.5,559.6 1060.7,562.2 1066.7,564.7 1078.8,567.3 1091.0,572.3 1103.1,577.4 1115.2,582.4 1127.3,586.5 1139.4,588.5 1155.6,590.5 1171.7,589.5 1191.9,587.5 1212.1,586.5 1242.4,585.5 1268.6,584.5 1274.7,583.0 1282.8,584.5 1290.8,584.5" stroke-dasharray="3,3"/>
<polyline fill="none" stroke="#1e90ff" stroke-width="1" points="3.5,670.7 11.5,667.7 19.5,666.2 27.5,664.0 35.5,674.3 43.5,675.7 51.5,664.2 59.5,664.2 67.5,668.1 75.5,669.7 83.5,666.2 91.5,686.4 99.5,694.5 107.5,691.3 115.5,683.2 123.5,681.8 131.5,681.8 139.5,683.8 147.5,680.4 155.5,677.1 163.5,678.4 171.5,678.4 179.5,682.8 187.5,680.2 195.5,681.4 203.5,681.4 211.5,688.5 219.5,686.2 227.5,694.5 235.5,701.4 243.5,703.4 251.5,699.4 259.5,697.3 267.5,691.3 275.5,692.5 283.5,679.2 291.5,681.4 299.5,681.4 307.5,681.4 315.5,684.8 323.5,676.7 331.5,672.5 339.5,676.0 347.5,670.1 355.5,671.3 363.5,668.3 371.5,675.7 379.5,682.4 387.5,686.4 395.5,682.4 403.5,681.2 411.5,682.4 419.5,686.2 427.5,666.2 435.5,667.7 443.5,668.7 451.5,665.2 459.5,666.6 467.5,677.3 475.5,679.4 483.5,674.7 491.5,674.3 499.5,654.5 507.5,645.4 515.5,644.4 523.5,651.5 531.5,656.5 539.5,653.1 547.5,651.5 555.5,648.5 563.5,650.5 571.5,646.5 579.5,657.2 587.5,657.6 595.5,661.2 603.5,667.7 611.5,665.6 619.5,658.6 627.5,649.5 635.5,661.6 643.5,664.6 651.5,667.7 659.5,662.8 667.5,672.5 675.5,679.4 683.5,671.3 691.5,671.3 699.5,673.3 707.5,675.3 715.5,670.7 723.5,651.5 731.5,663.0 739.5,664.6 747.5,663.2 755.5,662.2 763.5,662.6 771.5,668.1 779.5,669.7 787.5,675.3 795.5,674.3 803.5,672.7 811.5,673.3 819.5,667.3 827.5,661.6 835.5,666.2 843.5,662.6 851.5,661.2 859.5,663.2 867.5,658.2 875.5,661.6 883.5,672.3 891.5,669.3 899.5,669.3 907.5,670.3 915.5,678.4 923.5,665.6 931.5,657.2 939.5,655.1 947.5,658.2 955.5,660.2 963.5,660.2 971.5,667.3 979.5,671.3 987.5,671.3 995.5,670.1 1003.5,670.1 1011.5,671.3 1019.5,664.2 1027.5,675.7 1035.5,682.4 1043.5,684.4 1051.5,684.4 1059.5,687.4 1067.5,691.3 1075.5,695.5 1083.5,702.4 1091.5,698.3 1099.5,698.3 1107.5,697.3 1115.5,696.3 1123.5,675.3 1131.5,682.4 1139.5,681.2 1147.5,682.4 1155.5,682.4 1163.5,686.2 1171.5,687.4 1179.5,690.5 1187.5,686.2 1195.5,684.4 1203.5,685.4 1211.5,692.3 1219.5,681.4 1227.5,686.2 1235.5,687.4 1243.5,684.4 1251.5,679.4 1259.5,681.2 1267.5,683.2 1275.5,689.9 1283.5,701.4 1291.5,692.9" />
</svg>
<div class="ax" style="top:68px">57.210</div>
<div class="ax" style="top:117px">55.560</div>
<div class="ax" style="top:166px">53.940</div>
<div class="ax" style="top:215px">52.320</div>
<div class="ax" style="top:264px">50.700</div>
<div class="ax" style="top:313px">49.080</div>
<div class="ax" style="top:362px">47.460</div>
<div class="ax" style="top:411px">45.840</div>
<div class="ax" style="top:460px">44.220</div>
<div class="ax" style="top:509px">42.570</div>
<div class="lab" style="top:224px;background:#ff0000;color:#fff">52.032</div>
<div class="lab" style="top:283px;background:#ff4500;color:#fff">50.071</div>
<div class="lab" style="top:398px;background:#00ff7f;color:#fff">46.248</div>
<div class="lab" style="top:492px;background:#000;color:#fff">43.120</div>
<div class="lab" style="top:518px;background:#0000ff;color:#fff">42.301</div>
<div class="ax" style="top:539px;left:1637px">0.6041</div>
<div class="ax" style="top:549px;left:1637px">0.00</div>
<div class="ax" style="top:583px;left:1637px">-1.4369</div>
<div class="ax" style="top:602px;left:1636.2px">100</div>
<div class="ax" style="top:633px;left:1634.8px">70</div>
<div class="ax" style="top:683px;left:1635px">30</div>
<div class="ax" style="top:714px;left:1635.8px">0</div>
<div class="tm" style="left:2px">16 Nov 2018</div>
<div class="tm" style="left:98px">20 Nov 16:00</div>
<div class="tm" style="left:194px">22 Nov 16:00</div>
<div class="tm" style="left:290px">26 Nov 16:00</div>
<div class="tm" style="left:386px">28 Nov 16:00</div>
<div class="tm" style="left:482px">30 Nov 16:00</div>
<div class="tm" style="left:578px">4 Dec 12:00</div>
<div class="tm" style="left:674px">6 Dec 12:00</div>
<div class="tm" style="left:770px">10 Dec 08:00</div>
<div class="tm" style="left:866px">12 Dec 08:00</div>
<div class="tm" style="left:962px">14 Dec 08:00</div>
<div class="tm" style="left:1058px">18 Dec 04:00</div>
<div class="tm" style="left:1154px">20 Dec 04:00</div>
<div class="tm" style="left:1250px">24 Dec 00:00</div>
<svg class="abs" style="left:5px;top:46px" width="11" height="7"><path d="M0.5 6.5 L5.5 0.5 L10.5 6.5 Z" fill="#000"/></svg>
<div class="t" id="title" style="left:21px;top:43px;letter-spacing:-0.55px">USOil-,H4<span style="position:absolute;left:59px;top:0;letter-spacing:0.235px">42.830 43.220 42.830 43.120</span></div>
<div class="t" id="macdt" style="left:7px;top:541px">MACD(12,26,9) -1.1833 -1.0059</div>
<div class="t" id="rsit" style="left:7px;top:604px">RSI(14) 28.2892</div>
<div class="abs" id="anno" style="left:1301.8px;top:423px;font-size:33.8px;line-height:40px;color:#ff2008;white-space:nowrap">多空转折点<span style="position:relative;top:-2.7px">46</span></div>
<div class="abs" style="left:6px;top:62px;width:283px;height:76px;background:#fff"></div>
<div class="abs" style="left:6px;top:62px;width:68px;height:28px;background:linear-gradient(#5858ff,#3c3ce8);border:1px solid #2020d0;border-bottom:none;box-sizing:border-box"></div>
<div class="abs" style="left:221px;top:62px;width:68px;height:28px;background:linear-gradient(#5858ff,#3c3ce8);border:1px solid #2020d0;border-bottom:none;box-sizing:border-box"></div>
<div class="abs" style="left:6px;top:89px;width:141px;height:49px;background:linear-gradient(#3a3ae4,#1a1ac6 50%,#0202a4);border:1px solid #1010b8;border-top:none;box-sizing:border-box"></div>
<div class="abs" style="left:149px;top:89px;width:140px;height:49px;background:linear-gradient(#3a3ae4,#1a1ac6 50%,#0202a4);border:1px solid #1010b8;border-top:none;box-sizing:border-box"></div>
<div class="abs" style="left:10px;top:89px;width:60px;height:1px;background:#8080f0"></div>
<div class="abs" style="left:225px;top:89px;width:60px;height:1px;background:#8080f0"></div>
<div class="abs" style="left:76px;top:62px;width:143px;height:25px;background:#fff;border:1px solid #b0b0b0;box-sizing:border-box"></div>
<div class="abs" style="left:77px;top:63px;width:23px;height:23px;background:linear-gradient(#f4f4f4,#e6e6e6 42%,#dadada 46%,#cdcdcd);border:1px solid #e9e9e9;border-right:none;box-sizing:border-box"></div><div class="abs" style="left:100px;top:63px;width:1px;height:23px;background:#b4b4b4"></div>
<div class="abs" style="left:195px;top:63px;width:23px;height:23px;background:linear-gradient(#f4f4f4,#e6e6e6 42%,#dadada 46%,#cdcdcd);border:1px solid #e9e9e9;border-left:none;box-sizing:border-box"></div><div class="abs" style="left:194px;top:63px;width:1px;height:23px;background:#b4b4b4"></div>
<svg class="abs" style="left:84px;top:73px" width="10" height="6"><path d="M1.2 0.2 L8.4 0.2 L4.8 4.6 Z" fill="#5566b8"/></svg>
<svg class="abs" style="left:202px;top:72px" width="10" height="6"><path d="M1.2 4.8 L8.4 4.8 L4.8 0.4 Z" fill="#5566b8"/></svg>
<div class="abs" id="vol" style="left:100px;top:66px;width:91px;text-align:right;font-size:15.6px;letter-spacing:0.45px;line-height:19px">1.00</div>
<div class="w" id="sell" style="left:22.5px;top:67px;font-size:14px;line-height:19px">SELL</div>
<div class="w" id="buy" style="left:239.5px;top:67px;font-size:14px;line-height:19px">BUY</div>
<div class="w" id="s43" style="left:45px;top:113px;font-size:14.5px;letter-spacing:0.9px;line-height:19px;font-weight:bold;transform:scaleX(1.11);transform-origin:left">43</div>
<div class="w" id="s12" style="left:65.8px;top:89px;font-size:42px;letter-spacing:-1.8px;line-height:48px">12</div>
<div class="w" id="s0" style="left:115.5px;top:95px;font-size:14.5px;line-height:19px;font-weight:bold;transform:scaleX(1.2);transform-origin:left">0</div>
<div class="w" id="b43" style="left:187px;top:113px;font-size:14.5px;letter-spacing:0.9px;line-height:19px;font-weight:bold;transform:scaleX(1.11);transform-origin:left">43</div>
<div class="w" id="b17" style="left:209.8px;top:89px;font-size:42px;letter-spacing:-2.4px;line-height:48px">17</div>
<div class="w" id="b0" style="left:258.3px;top:95px;font-size:14.5px;line-height:19px;font-weight:bold;transform:scaleX(1.2);transform-origin:left">0</div>

</body></html>
